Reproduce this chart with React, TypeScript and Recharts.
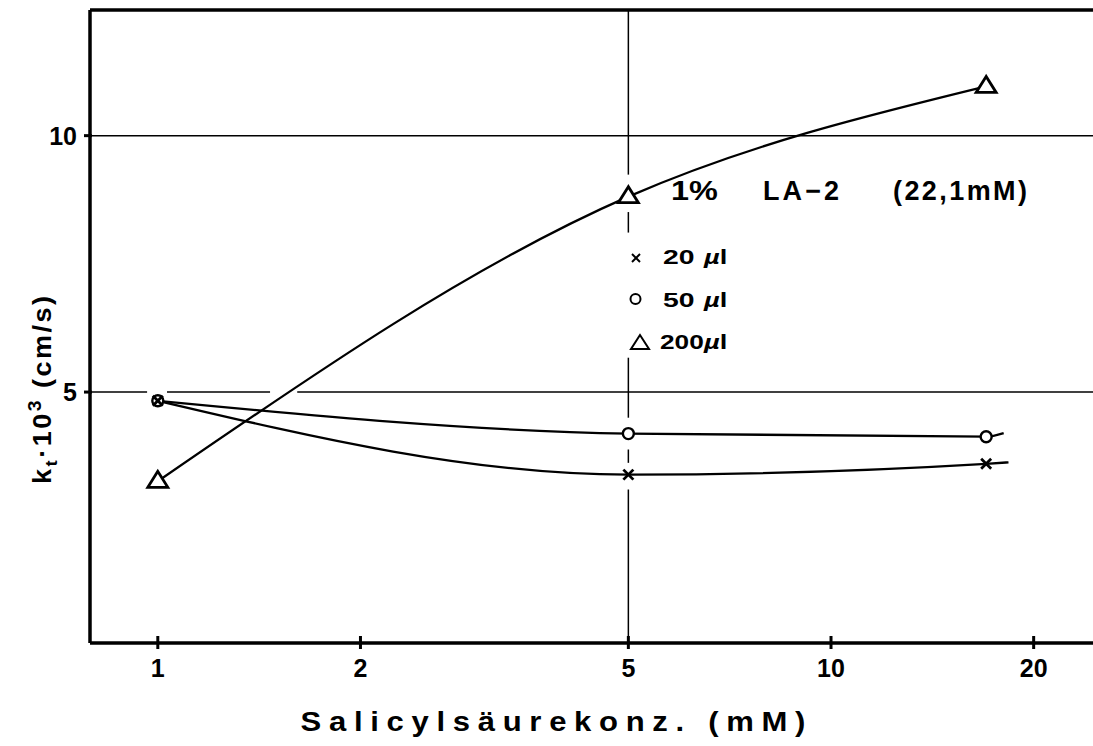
import { LineChart, Line, XAxis, YAxis, ReferenceLine } from "recharts"

// Salicylsäure concentration (mM), measured points
const concentration = [1, 5, 17]
// k_t * 10^3 (cm/s) per added volume of 1% LA-2
const kt20ul = [4.83, 3.39, 3.6]
const kt50ul = [4.83, 4.19, 4.13]
const kt200ul = [3.26, 8.81, 10.96]
// the hand drawn fit curves run a little past the last point
const curveEnd20ul = [18.35, 3.63]
const curveEnd50ul = [18.05, 4.2]

const xTicks = [1, 2, 5, 10, 20]
const yTicks = [5, 10]
const xDomain = [0.793, 24.5]
const yDomain = [0.107, 12.45]

// gaps in the guide lines (left open around markers and the legend)
const hLine5Pieces = [[0.793, 0.964], [1.032, 1.468], [1.611, 24.5]]
const vLine5Pieces = [[12.45, 9.24], [8.51, 8.11], [5.67, 4.5], [3.88, 3.62], [3.1, 0.107]]

const FONT = "'Liberation Sans', Arial, Helvetica, sans-serif"

type Pt = { c: number; kt: number; measured: boolean }

const toPoints = (ys: number[]): Pt[] =>
  concentration.map((c, i) => ({ c, kt: ys[i], measured: true }))

const series20 = [...toPoints(kt20ul), { c: curveEnd20ul[0], kt: curveEnd20ul[1], measured: false }]
const series50 = [...toPoints(kt50ul), { c: curveEnd50ul[0], kt: curveEnd50ul[1], measured: false }]
const series200 = toPoints(kt200ul)

const CrossDot = (props: any) => {
  const { cx, cy, payload } = props
  if (!payload || !payload.measured) return <g />
  const s = 5
  return (
    <g stroke="#000" strokeWidth={2.8}>
      <line x1={cx - s} y1={cy - s} x2={cx + s} y2={cy + s} />
      <line x1={cx - s} y1={cy + s} x2={cx + s} y2={cy - s} />
    </g>
  )
}

const CircleDot = (props: any) => {
  const { cx, cy, payload } = props
  if (!payload || !payload.measured) return <g />
  return <circle cx={cx} cy={cy} r={5.5} fill="#fff" stroke="#000" strokeWidth={2.4} />
}

const TriangleDot = (props: any) => {
  const { cx, cy, payload } = props
  if (!payload || !payload.measured) return <g />
  return (
    <polygon
      points={`${cx},${cy - 10} ${cx - 10},${cy + 6} ${cx + 10},${cy + 6}`}
      fill="#fff"
      stroke="#000"
      strokeWidth={2.8}
      strokeLinejoin="miter"
    />
  )
}

const XTick = (props: any) => {
  const { x, y, payload } = props
  return (
    <g>
      <line x1={x} x2={x} y1={y - 7} y2={y + 6} stroke="#000" strokeWidth={3} />
      <text x={x} y={y + 34} textAnchor="middle" fontFamily={FONT} fontWeight="bold" fontSize={25} fill="#000">
        {payload.value}
      </text>
    </g>
  )
}

const YTick = (props: any) => {
  const { x, y, payload } = props
  return (
    <g>
      <line x1={x - 6} x2={x + 2} y1={y} y2={y} stroke="#000" strokeWidth={3} />
      <text x={x - 13} y={y + 9} textAnchor="end" fontFamily={FONT} fontWeight="bold" fontSize={25} fill="#000">
        {payload.value}
      </text>
    </g>
  )
}

// wide bold lettering, as in the printed figure
const Wide = ({ x, y, size, sx, children }: any) => (
  <text
    transform={`translate(${x},${y}) scale(${sx},1)`}
    fontFamily={FONT}
    fontWeight="bold"
    fontSize={size}
    fill="#000"
  >
    {children}
  </text>
)

function Annotations() {
  const t = { fontFamily: FONT, fontWeight: "bold" as const, fill: "#000" }
  return (
    <svg
      width={1093}
      height={746}
      style={{ position: "absolute", left: 0, top: 0, pointerEvents: "none" }}
    >
      <Wide x={671} y={200} size={27} sx={1.2}>1%</Wide>
      <text {...t} x={763} y={200} fontSize={27} textLength={76} lengthAdjust="spacing">LA−2</text>
      <text {...t} x={893} y={200} fontSize={27} textLength={134} lengthAdjust="spacing">(22,1mM)</text>

      <g stroke="#000" strokeWidth={2}>
        <line x1={632} y1={254} x2={640} y2={262} />
        <line x1={632} y1={262} x2={640} y2={254} />
      </g>
      <Wide x={663} y={264} size={21} sx={1.35}>20</Wide>
      <Wide x={704} y={264} size={21} sx={1.3}><tspan fontStyle="italic">µ</tspan>l</Wide>

      <circle cx={635.5} cy={299} r={5} fill="none" stroke="#000" strokeWidth={2} />
      <Wide x={663} y={307} size={21} sx={1.35}>50</Wide>
      <Wide x={704} y={307} size={21} sx={1.3}><tspan fontStyle="italic">µ</tspan>l</Wide>

      <polygon points="640,335 631,349 649,349" fill="none" stroke="#000" strokeWidth={2} />
      <Wide x={660} y={349} size={21} sx={1.25}>200</Wide>
      <Wide x={704} y={349} size={21} sx={1.3}><tspan fontStyle="italic">µ</tspan>l</Wide>

      <text
        {...t}
        transform="translate(553,731) scale(1.15,1)"
        fontSize={27}
        textAnchor="middle"
        textLength={439}
        lengthAdjust="spacing"
      >
        Salicylsäurekonz. (mM)
      </text>

      <text
        {...t}
        fontSize={25}
        transform="translate(51,390) rotate(-90) scale(1.08,1)"
        textAnchor="middle"
        textLength={174}
        lengthAdjust="spacing"
      >
        k<tspan fontSize={17} dy={6}>t</tspan>
        <tspan dy={-6}>·10</tspan>
        <tspan fontSize={18} dy={-10}>3</tspan>
        <tspan dy={10}> (cm/s)</tspan>
      </text>
    </svg>
  )
}

export default function App() {
  return (
    <div style={{ position: "absolute", left: 0, top: 0, width: 1093, height: 746, background: "#fff" }}>
      <LineChart width={1093} height={746} margin={{ top: 10, right: 0, bottom: 0, left: 0 }}>
        <XAxis
          dataKey="c"
          type="number"
          scale="log"
          domain={xDomain}
          allowDataOverflow
          ticks={xTicks}
          interval={0}
          height={103}
          tickSize={0}
          tickMargin={0}
          tickLine={false}
          axisLine={{ stroke: "#000", strokeWidth: 3.5 }}
          tick={<XTick />}
        />
        <YAxis
          type="number"
          domain={yDomain}
          allowDataOverflow
          ticks={yTicks}
          interval={0}
          width={90}
          tickSize={0}
          tickMargin={0}
          tickLine={false}
          axisLine={{ stroke: "#000", strokeWidth: 3.5 }}
          tick={<YTick />}
        />
        <ReferenceLine y={yDomain[1]} stroke="#000" strokeWidth={3.5} />
        <ReferenceLine y={10} stroke="#000" strokeWidth={1.5} />
        {hLine5Pieces.map(([a, b], i) => (
          <ReferenceLine
            key={"h" + i}
            segment={[{ x: a, y: 5 }, { x: b, y: 5 }]}
            stroke="#000"
            strokeWidth={1.5}
          />
        ))}
        {vLine5Pieces.map(([a, b], i) => (
          <ReferenceLine
            key={"v" + i}
            segment={[{ x: 5, y: a }, { x: 5, y: b }]}
            stroke="#000"
            strokeWidth={1.5}
          />
        ))}
        <Line
          data={series200}
          dataKey="kt"
          type="monotone"
          stroke="#000"
          strokeWidth={2.3}
          dot={<TriangleDot />}
          activeDot={false}
          isAnimationActive={false}
        />
        <Line
          data={series50}
          dataKey="kt"
          type="monotone"
          stroke="#000"
          strokeWidth={2.3}
          dot={<CircleDot />}
          activeDot={false}
          isAnimationActive={false}
        />
        <Line
          data={series20}
          dataKey="kt"
          type="monotone"
          stroke="#000"
          strokeWidth={2.3}
          dot={<CrossDot />}
          activeDot={false}
          isAnimationActive={false}
        />
      </LineChart>
      <Annotations />
    </div>
  )
}
